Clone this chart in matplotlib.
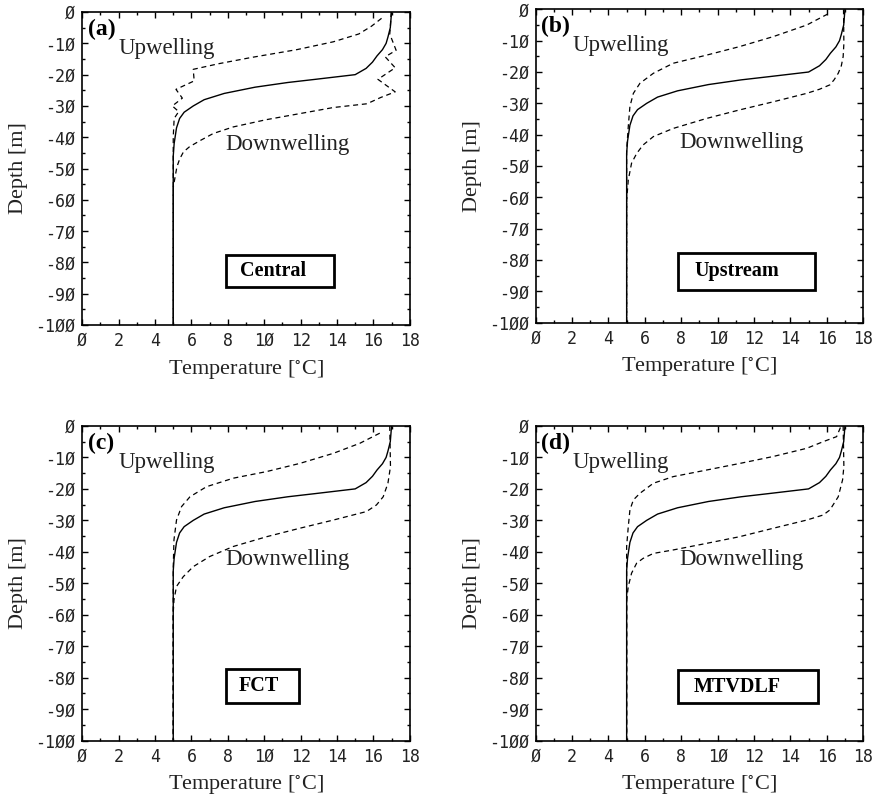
import matplotlib
matplotlib.use("Agg")
import matplotlib.pyplot as plt
from matplotlib.ticker import MultipleLocator, FuncFormatter
from matplotlib.patches import Rectangle

plt.rcParams['mathtext.fontset'] = 'stix'

# initial profile (solid), identical in all four runs
depth_init = [0, -5, -8, -10, -12, -14, -16, -18, -20, -21.5, -22.5, -24, -26,
              -28, -30, -32, -34, -37, -42, -46, -100]
temp_init = [17.0, 16.93, 16.8, 16.7, 16.5, 16.2, 15.95, 15.6, 15.0, 12.8, 11.3,
             9.5, 7.8, 6.7, 6.1, 5.6, 5.35, 5.18, 5.05, 5.0, 5.0]

# (a) central differences
depth_up_a = [-2, -4.5, -7, -9.5, -12, -14.5, -16.5, -18.3, -22, -24.7, -27.5,
              -30, -31.8, -34, -40, -100]
temp_up_a = [16.45, 15.9, 15.2, 13.8, 11.8, 9.3, 7.5, 6.1, 6.15, 5.15, 5.5,
             4.95, 5.3, 5.05, 5.0, 5.0]
depth_dn_a = [0, -5, -7, -12.2, -14.3, -17.8, -21.5, -25.5, -27.3, -29.3, -30.5,
              -32.4, -34.4, -36.7, -38.8, -41, -43, -44.7, -47, -49.5, -56, -100]
temp_dn_a = [16.98, 16.93, 16.9, 17.25, 16.65, 17.2, 16.25, 17.2, 16.4, 15.65,
             13.8, 12.0, 10.1, 8.3, 7.2, 6.5, 5.9, 5.56, 5.35, 5.2, 5.0, 5.0]

# (b) upstream
depth_up_b = [-1.5, -5, -8.7, -11.9, -14.6, -17.2, -20.4, -23.6, -26.8, -31,
              -37.4, -45, -100]
temp_up_b = [16.05, 14.9, 13.06, 11.2, 9.4, 7.56, 6.47, 5.73, 5.37, 5.18, 5.09,
             5.0, 5.0]
depth_dn_b = [0, -10.9, -15.1, -18, -20.4, -22.5, -24.1, -25.5, -26.8, -29.5,
              -32.1, -34.8, -38, -40.6, -43.3, -46, -49.1, -54.5, -60.9, -100]
temp_dn_b = [16.92, 16.94, 16.9, 16.8, 16.63, 16.4, 16.17, 15.6, 14.9, 13.06,
             11.2, 9.4, 7.56, 6.47, 5.9, 5.55, 5.27, 5.09, 5.0, 5.0]

# (c) FCT
depth_up_c = [-2.3, -5.5, -8.7, -11.9, -14.5, -16.6, -19.3, -22.5, -25.6, -29.9,
              -36.2, -45, -100]
temp_up_c = [16.35, 15.26, 13.8, 11.96, 10.13, 8.3, 6.83, 5.92, 5.46, 5.18,
             5.04, 5.0, 5.0]
depth_dn_c = [0, -12.9, -18.2, -22.5, -25.1, -27.2, -29.9, -32.5, -35.2, -38.3,
              -41.5, -44.7, -47.9, -51, -55.3, -59.5, -100]
temp_dn_c = [16.9, 16.94, 16.8, 16.54, 16.17, 15.62, 13.8, 11.96, 10.13, 8.3,
             7.0, 6.1, 5.55, 5.18, 5.04, 5.0, 5.0]

# (d) MTVDLF
depth_up_d = [-0.5, -3.4, -5, -7.1, -9.7, -11.9, -14, -16.1, -18.2, -21.4,
              -23.5, -26.7, -32, -38.3, -100]
temp_up_d = [16.75, 16.54, 15.8, 14.9, 13.06, 11.23, 9.4, 7.56, 6.47, 5.73,
             5.37, 5.18, 5.09, 5.0, 5.0]
depth_dn_d = [0, -12.9, -17.1, -22.5, -26.7, -28.3, -29.9, -32.5, -35.2, -37.3,
              -39.4, -40.5, -42.1, -43.6, -46.8, -51, -55.3, -100]
temp_dn_d = [16.9, 16.94, 16.87, 16.63, 16.17, 15.8, 14.9, 13.06, 11.2, 9.4,
             7.56, 6.47, 5.9, 5.55, 5.27, 5.09, 5.0, 5.0]

tags = ['(a)', '(b)', '(c)', '(d)']
schemes = ['Central', 'Upstream', 'FCT', 'MTVDLF']
ups = [(temp_up_a, depth_up_a), (temp_up_b, depth_up_b),
       (temp_up_c, depth_up_c), (temp_up_d, depth_up_d)]
downs = [(temp_dn_a, depth_dn_a), (temp_dn_b, depth_dn_b),
         (temp_dn_c, depth_dn_c), (temp_dn_d, depth_dn_d)]

# axes rectangles [left, bottom, width, height]
positions = [[0.0937, 0.5932, 0.373, 0.3917],
             [0.6101, 0.5961, 0.373, 0.3922],
             [0.0937, 0.0730, 0.373, 0.3939],
             [0.6101, 0.0730, 0.373, 0.3939]]
# box around scheme name: (x0, x1, y0, y1) and text x
boxes = [(7.9, 13.83, -87.9, -77.6, 10.5),
         (7.84, 15.38, -89.6, -77.7, 11.06),
         (7.88, 11.9, -88.1, -77.3, 9.73),
         (7.84, 15.53, -88.1, -77.5, 11.06)]

serif = 'Liberation Serif'
mono = 'DejaVu Sans Mono'


def slashed(v, pos):
    return str(int(round(v))).replace('0', '\u00d8')


fig = plt.figure(figsize=(8.78, 7.99), dpi=100)

for i in range(4):
    ax = fig.add_axes(positions[i])
    ax.plot(temp_init, depth_init, color='black', lw=1.0)
    ax.plot(*ups[i], color='black', lw=0.9, linestyle=(0, (4, 3)))
    ax.plot(*downs[i], color='black', lw=0.9, linestyle=(0, (4, 3)))

    ax.set_xlim(0, 18)
    ax.set_ylim(-100, 0)
    ax.xaxis.set_major_locator(MultipleLocator(2))
    ax.xaxis.set_minor_locator(MultipleLocator(1))
    ax.yaxis.set_major_locator(MultipleLocator(10))
    ax.yaxis.set_minor_locator(MultipleLocator(5))
    ax.xaxis.set_major_formatter(FuncFormatter(slashed))
    ax.yaxis.set_major_formatter(FuncFormatter(slashed))
    ax.tick_params(which='both', direction='in', top=True, right=True,
                   width=1.0, labelsize=12, labelcolor='#222222')
    ax.tick_params(which='major', length=4.5)
    ax.tick_params(axis='x', which='major', pad=5)
    ax.tick_params(axis='y', which='major', pad=5)
    ax.tick_params(which='minor', length=2.5)
    for lab in ax.get_xticklabels() + ax.get_yticklabels():
        lab.set_family(mono)
    for sp in ax.spines.values():
        sp.set_linewidth(1.2)

    ax.set_xlabel('Temperature [$^{\\circ}$C]', family=serif, fontsize=16,
                  color='#222222', labelpad=6)
    ax.set_ylabel('Depth [m]', family=serif, fontsize=16, color='#222222',
                  labelpad=5)

    ax.text(0.3, -7.3, tags[i], family=serif, fontsize=17, fontweight='bold',
            va='baseline', ha='left')
    ax.text(2.0, -13.3, 'Upwelling', family=serif, fontsize=16.5,
            va='baseline', ha='left', color='#222222')
    ax.text(7.88, -44.1, 'Downwelling', family=serif, fontsize=16.5,
            va='baseline', ha='left', color='#222222')

    x0, x1, y0, y1, tx = boxes[i]
    ax.add_patch(Rectangle((x0, y0), x1 - x0, y1 - y0, fill=False,
                           edgecolor='black', lw=2.0))
    ax.text(tx, (y0 + y1) / 2, schemes[i], family=serif, fontsize=14.5,
            fontweight='bold', ha='center', va='center')

fig.savefig('out.png', dpi=100)
